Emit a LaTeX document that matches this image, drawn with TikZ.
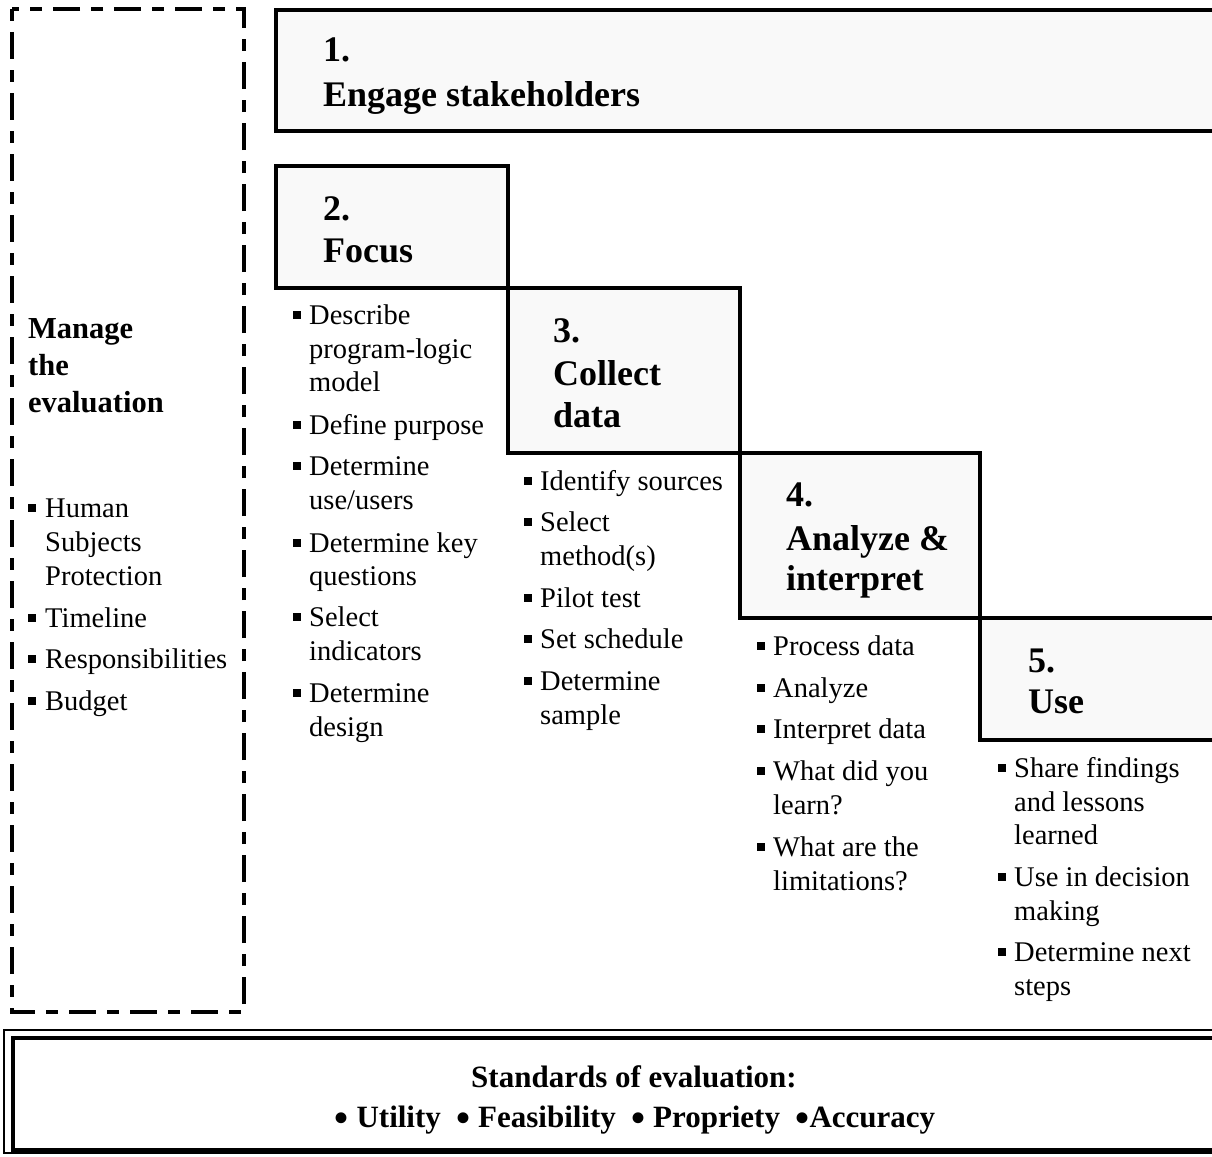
\documentclass[tikz,border=0pt]{standalone}
\usepackage{fontspec}
\setmainfont{Liberation Serif}
\newcommand\tl[4]{\node[txt] (#1) at (#2,#3) {#4};}
\newcommand\bl[3]{\node[bsq] (#1) at (#2,#3-9) {};}
\newcommand\bigdot{{\fontsize{40}{40}\selectfont\raisebox{-4.5pt}{•}}}
\begin{document}
\begin{tikzpicture}[x=1pt,y=-1pt,
  stage/.style={draw=black, line width=3.5pt, fill=gray!5},
  txt/.style={anchor=base west, inner sep=0pt, font=\fontsize{28.5}{34}\selectfont},
  hd/.style={anchor=base west, inner sep=0pt, font=\fontsize{36}{44}\selectfont\bfseries},
  mg/.style={anchor=base west, inner sep=0pt, font=\fontsize{30.5}{37}\selectfont\bfseries},
  std/.style={anchor=base, inner sep=0pt, font=\fontsize{31}{40}\selectfont\bfseries},
  bsq/.style={fill=black, minimum size=7.5pt, inner sep=0pt, draw=none},
  dashbox/.style={draw=black, line width=3.5pt, dash pattern=on 12pt off 11pt on 27pt off 11pt}]
\useasboundingbox (0,0) rectangle (1212,1156);
\begin{scope}
\clip (0,0) rectangle (1212,1156);
% stage boxes
\path[stage] (276,10) rectangle (1230,131);
\path[stage] (276,166) rectangle (508,288);
\path[stage] (508,288) rectangle (740,453);
\path[stage] (740,453) rectangle (980,618);
\path[stage] (980,618) rectangle (1230,740);
% dashed management box
\path[dashbox] (12,9) rectangle (244,1012);
% standards box
\draw[line width=2.5pt] (4,1030) rectangle (1230,1153);
\draw[line width=3.5pt] (13,1038) rectangle (1230,1150);
\end{scope}
% headings
\node[hd] (h1a) at (323,62) {1.};
\node[hd] (h1b) at (323,106) {Engage stakeholders};
\node[hd] (h2a) at (323,220) {2.};
\node[hd] (h2b) at (323,262) {Focus};
\node[hd] (h3a) at (553,342) {3.};
\node[hd] (h3b) at (553,385) {Collect};
\node[hd] (h3c) at (553,427) {data};
\node[hd] (h4a) at (786,506) {4.};
\node[hd] (h4b) at (786,550) {Analyze \&};
\node[hd] (h4c) at (786,590) {interpret};
\node[hd] (h5a) at (1028,672) {5.};
\node[hd] (h5b) at (1028,713) {Use};
% manage
\node[mg] (m1) at (28,338) {Manage};
\node[mg] (m2) at (28,375) {the};
\node[mg] (m3) at (28,412) {evaluation};
\bl{mb1}{32}{517}\tl{mt1}{45}{517}{Human}
\tl{mt2}{45}{551}{Subjects}
\tl{mt3}{45}{585}{Protection}
\bl{mb2}{32}{627}\tl{mt4}{45}{627}{Timeline}
\bl{mb3}{32}{668}\tl{mt5}{45}{668}{Responsibilities}
\bl{mb4}{32}{710}\tl{mt6}{45}{710}{Budget}
% focus list
\bl{fb1}{297}{324}\tl{ft1}{309}{324}{Describe}
\tl{ft2}{309}{358}{program-logic}
\tl{ft3}{309}{391}{model}
\bl{fb2}{297}{434}\tl{ft4}{309}{434}{Define purpose}
\bl{fb3}{297}{475}\tl{ft5}{309}{475}{Determine}
\tl{ft6}{309}{509}{use/users}
\bl{fb4}{297}{552}\tl{ft7}{309}{552}{Determine key}
\tl{ft8}{309}{585}{questions}
\bl{fb5}{297}{626}\tl{ft9}{309}{626}{Select}
\tl{ft10}{309}{660}{indicators}
\bl{fb6}{297}{702}\tl{ft11}{309}{702}{Determine}
\tl{ft12}{309}{736}{design}
% collect list
\bl{cb1}{528}{490}\tl{ct1}{540}{490}{Identify sources}
\bl{cb2}{528}{531}\tl{ct2}{540}{531}{Select}
\tl{ct3}{540}{565}{method(s)}
\bl{cb3}{528}{607}\tl{ct4}{540}{607}{Pilot test}
\bl{cb4}{528}{648}\tl{ct5}{540}{648}{Set schedule}
\bl{cb5}{528}{690}\tl{ct6}{540}{690}{Determine}
\tl{ct7}{540}{724}{sample}
% analyze list
\bl{ab1}{761}{655}\tl{at1}{773}{655}{Process data}
\bl{ab2}{761}{697}\tl{at2}{773}{697}{Analyze}
\bl{ab3}{761}{738}\tl{at3}{773}{738}{Interpret data}
\bl{ab4}{761}{780}\tl{at4}{773}{780}{What did you}
\tl{at5}{773}{814}{learn?}
\bl{ab5}{761}{856}\tl{at6}{773}{856}{What are the}
\tl{at7}{773}{890}{limitations?}
% use list
\bl{ub1}{1002}{777}\tl{ut1}{1014}{777}{Share findings}
\tl{ut2}{1014}{811}{and lessons}
\tl{ut3}{1014}{844}{learned}
\bl{ub2}{1002}{886}\tl{ut4}{1014}{886}{Use in decision}
\tl{ut5}{1014}{920}{making}
\bl{ub3}{1002}{961}\tl{ut6}{1014}{961}{Determine next}
\tl{ut7}{1014}{995}{steps}
% standards
\node[std] (s1) at (634,1087) {Standards of evaluation:};
\node[std] (s2) at (635,1127) {\bigdot\ Utility \ \bigdot\ Feasibility \ \bigdot\ Propriety \ \bigdot Accuracy};
\end{tikzpicture}
\end{document}
